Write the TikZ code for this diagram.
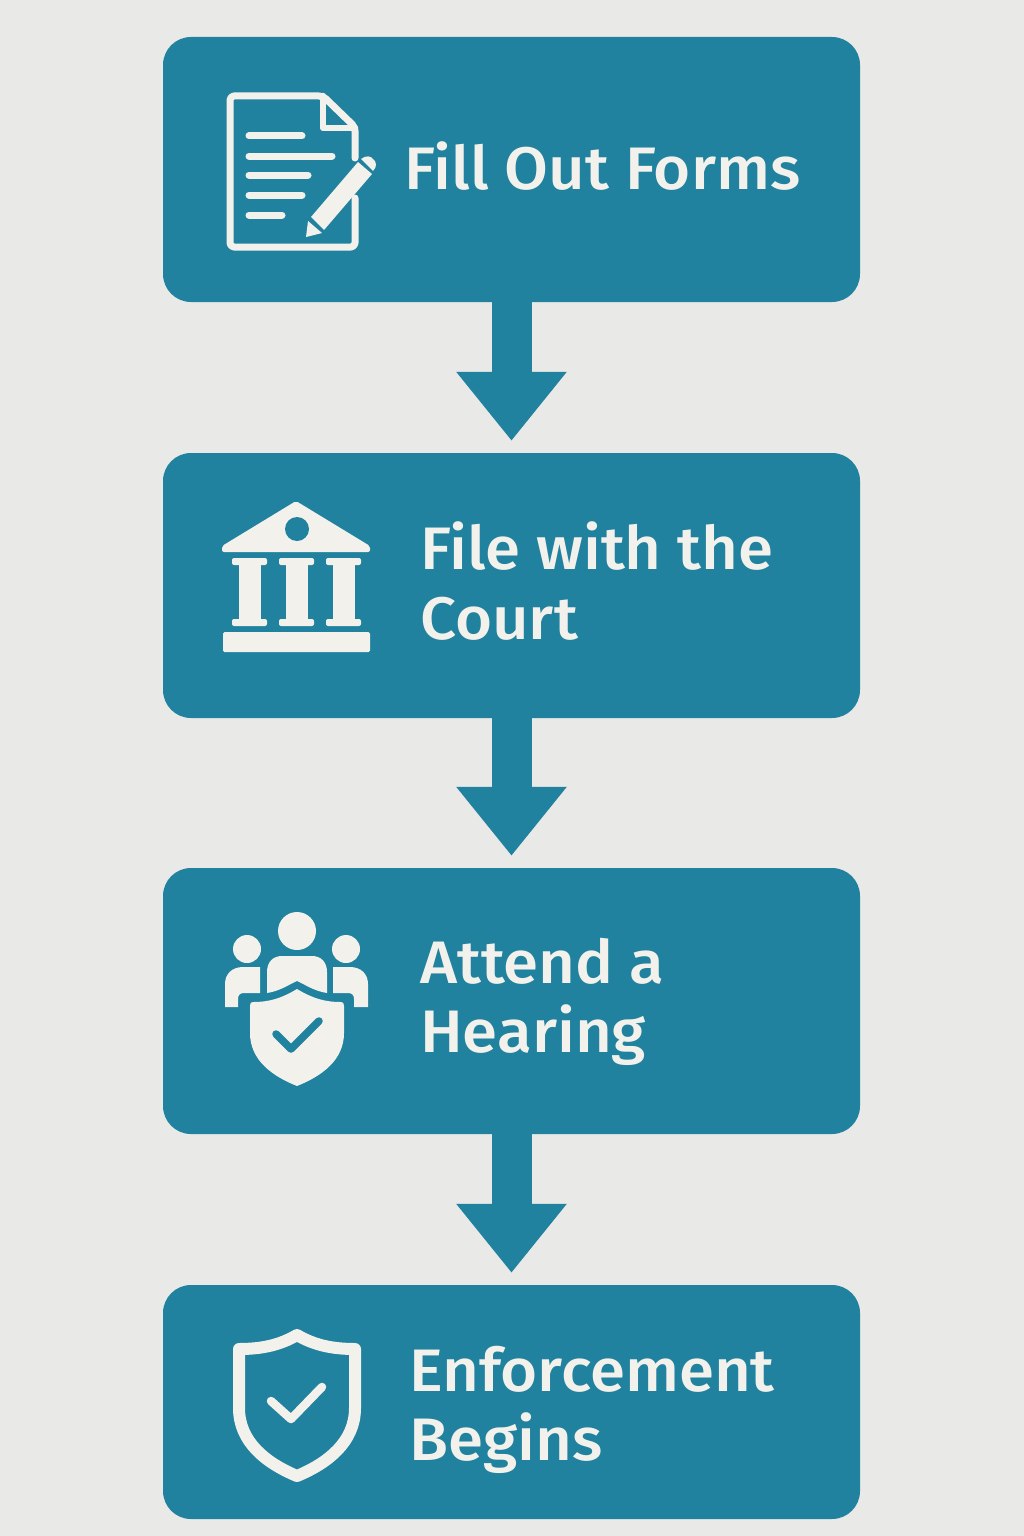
\documentclass[tikz,border=0pt]{standalone}
\usepackage{fontspec}
\usepackage{xcolor}
\usepackage{tikz}
\setmainfont{Fira Sans Medium}[FakeStretch=1.06]
\usetikzlibrary{positioning, arrows.meta}
\definecolor{stBack}{RGB}{233, 233, 232}
\definecolor{stTeal}{RGB}{32, 130, 158}
\definecolor{stPaper}{RGB}{243, 241, 236}
\tikzset{
    stage/.style={
        rectangle,
        rounded corners=28pt,
        fill=stTeal,
        minimum width=697pt,
        inner sep=0pt
    },
    caption/.style={
        font=\fontsize{60}{69.5}\selectfont,
        text=stPaper,
        align=left,
        anchor=west,
        inner sep=0pt
    },
    flow/.style={
        -{Triangle[width=106pt, length=69pt]},
        line width=40pt,
        color=stTeal,
        shorten >=12pt
    },
    ink/.style={
        draw=stPaper,
        line width=7pt,
        line cap=round,
        line join=round
    },
    solid ink/.style={
        fill=stPaper,
        rounded corners=2pt
    },
    cut/.style={
        draw=stTeal,
        line width=7.5pt,
        line cap=round,
        line join=round
    }
}
\begin{document}
\begin{tikzpicture}[x=1pt, y=-1pt]
  \useasboundingbox (0,0) rectangle (1024,1536);
  \fill[stBack] (0,0) rectangle (1024,1536);

  % The stages
  \node[stage, minimum height=265pt] (forms) at (511.5,169.5) {};
  \node[stage, minimum height=265pt] (court) at (511.5,585.5) {};
  \node[stage, minimum height=266pt] (hearing) at (511.5,1001) {};
  \node[stage, minimum height=234pt] (enforce) at (511.5,1402) {};

  \draw[flow] (forms.south) -- (court.north);
  \draw[flow] (court.south) -- (hearing.north);
  \draw[flow] (hearing.south) -- (enforce.north);

  % The labels
  \node[caption] (formstext) at (404,166) {Fill Out Forms};
  \node[caption] (courttext) at (420,581) {File with the\\Court};
  \node[caption] (hearingtext) at (420,1002) {Attend a\\Hearing};
  \node[caption] (enforcetext) at (409,1410) {Enforcement\\Begins};

  % The form icon
  \draw[ink, rounded corners=4pt] (355,158) -- (355,127) -- (323,96) -- (230,96)
    -- (230,247) -- (355,247) -- (355,198);
  \draw[ink, line width=6.5pt] (323,96) -- (323,128) -- (355,128);
  \draw[ink] (249,136) -- (302,136);
  \draw[ink] (249,156) -- (332,156);
  \draw[ink] (249,175) -- (308,175);
  \draw[ink] (249,195) -- (302,195);
  \draw[ink] (249,215) -- (282,215);
  \fill[stPaper] (358,162) -- (372,174) -- (324,230) -- (311,217) -- cycle;
  \fill[stPaper] (361,159) .. controls (366,155) and (371,156) .. (373,159)
    .. controls (377,162) and (377,167) .. (373,171) -- cycle;
  \fill[stPaper] (308,221) -- (322,233) -- (306,237) -- cycle;

  % The court icon
  \fill[solid ink] (296,501) -- (222,546) -- (222,552) -- (370,552) -- (370,546) -- cycle;
  \fill[stTeal] (297,529) circle (12);
  \foreach \col in {250,297,344} {
    \fill[solid ink] (\col-18,558) rectangle (\col+17,565);
    \fill[stPaper] (\col-11,560) rectangle (\col+11,624);
    \fill[solid ink] (\col-18,619) rectangle (\col+17,626);
  }
  \fill[stPaper, rounded corners=1.5pt] (223,632) rectangle (370,652);

  % The hearing icon
  \fill[stPaper] (297,931) circle (19);
  \fill[stPaper] (247,949) circle (14);
  \fill[stPaper] (346,949) circle (14);
  \fill[stPaper] (267,993) -- (267,972) .. controls (267,962) and (273,956) .. (282,956)
    -- (312,956) .. controls (321,956) and (327,962) .. (327,972) -- (327,993)
    .. controls (314,991) and (306,985) .. (297,981)
    .. controls (288,985) and (280,991) .. (267,993) -- cycle;
  \fill[stPaper] (260,967) -- (243,967) .. controls (232,967) and (225,974) .. (225,984)
    -- (225,1007) -- (238,1007) -- (238,999) .. controls (238,995) and (240,993) .. (244,993)
    -- (260,993) -- cycle;
  \fill[stPaper] (333,967) -- (350,967) .. controls (361,967) and (368,974) .. (368,984)
    -- (368,1007) -- (354,1007) -- (354,999) .. controls (354,995) and (352,993) .. (348,993)
    -- (333,993) -- cycle;
  \fill[stPaper] (297,989) .. controls (282,998) and (270,1002) .. (253,1002)
    .. controls (251,1002) and (250,1003) .. (250,1006) -- (250,1033)
    .. controls (250,1060) and (272,1076) .. (297,1086)
    .. controls (322,1076) and (344,1060) .. (344,1033) -- (344,1006)
    .. controls (344,1003) and (343,1002) .. (341,1002)
    .. controls (324,1002) and (312,998) .. (297,989) -- cycle;
  \draw[cut] (276,1034) -- (291,1049) -- (319,1021);

  % The enforcement icon
  \draw[ink, line width=12pt, line join=round] (297,1335)
    .. controls (280,1345) and (262,1349) .. (239,1349) -- (239,1408)
    .. controls (239,1442) and (266,1463) .. (297,1476)
    .. controls (328,1463) and (355,1442) .. (355,1408) -- (355,1349)
    .. controls (332,1349) and (314,1345) .. (297,1335) -- cycle;
  \draw[ink, line width=8.5pt] (271,1401) -- (291,1419) -- (322,1387);
\end{tikzpicture}
\end{document}
